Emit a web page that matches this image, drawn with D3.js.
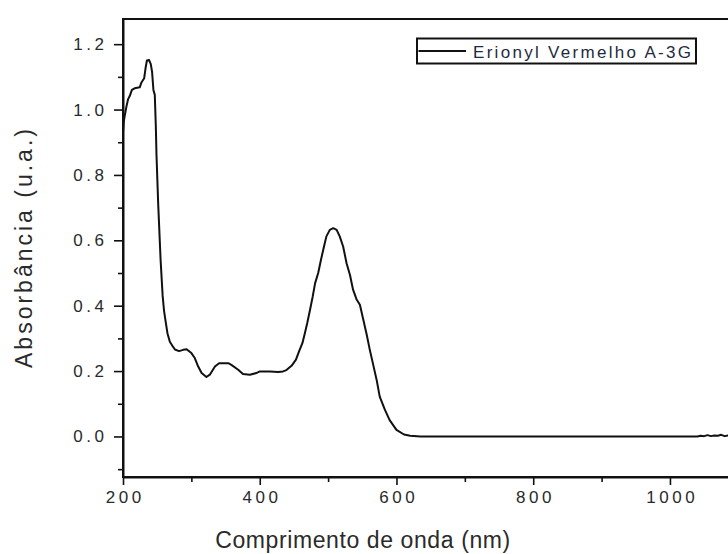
<!DOCTYPE html>
<html>
<head>
<meta charset="utf-8">
<script src="https://cdn.jsdelivr.net/npm/d3@7"></script>
<style>
  html, body { margin: 0; padding: 0; background: #fff; overflow: hidden; }
  svg { display: block; font-family: "Liberation Sans", Arial, sans-serif; }
</style>
</head>
<body>
<svg id="chart" width="728" height="554"></svg>
<script>
// UV-Vis absorption spectrum of the dye Erionyl Vermelho A-3G
const wavelength = [
  200, 201, 202, 205, 207.5, 210, 213, 217, 224.5, 227, 231, 233, 235, 238, 240.5, 242.5,
  244.5, 246.5, 248, 249, 251.5, 255, 258, 260, 262.5, 265, 268.5, 272, 276, 282, 288,
  293, 300, 305, 310, 315, 322, 327, 334.5, 340.5, 354, 358.5, 368.5, 375.5, 385.5, 395,
  400, 415, 427, 434, 439, 446.5, 453, 457.5, 462.5, 466, 469.5, 473.5, 477.5, 481, 485.5,
  489.5, 494, 497.5, 502.5, 507.5, 512.5, 517, 522, 527, 532, 536.5, 541.5, 546.5, 551.5,
  556.5, 561, 566, 571, 575.5, 583, 590, 600, 611, 620, 635, 700, 800, 900, 1000, 1040,
  1045, 1050, 1055, 1060, 1065, 1070, 1075, 1080, 1085, 1090
];
const absorbance = [
  0.93, 0.96, 0.975, 1.009, 1.032, 1.042, 1.06, 1.065, 1.068, 1.083, 1.096, 1.127, 1.15, 1.152, 1.14, 1.116,
  1.06, 1.045, 0.95, 0.86, 0.71, 0.54, 0.43, 0.385, 0.35, 0.316, 0.29, 0.278, 0.266, 0.261, 0.265,
  0.267, 0.255, 0.24, 0.214, 0.194, 0.182, 0.189, 0.214, 0.224, 0.224, 0.219, 0.204, 0.191, 0.189, 0.194,
  0.199, 0.199, 0.197, 0.199, 0.203, 0.216, 0.235, 0.26, 0.286, 0.316, 0.347, 0.387, 0.428, 0.469, 0.5,
  0.54, 0.581, 0.612, 0.632, 0.637, 0.632, 0.612, 0.581, 0.53, 0.494, 0.449, 0.42, 0.403, 0.357,
  0.311, 0.265, 0.219, 0.173, 0.122, 0.082, 0.05, 0.02, 0.006, 0.002, 0, 0, 0, 0, 0, 0,
  0.002, 0.001, 0.004, 0.001, 0.003, 0.002, 0.005, 0.001, 0.003, 0.002
];
const xMajorTicks = [200, 400, 600, 800, 1000];
const xMinorTicks = [300, 500, 700, 900, 1100];
const yMajorTicks = [0.0, 0.2, 0.4, 0.6, 0.8, 1.0, 1.2];
const yMinorTicks = [-0.1, 0.1, 0.3, 0.5, 0.7, 0.9, 1.1];
const seriesName = "Erionyl Vermelho A-3G";
const xTitle = "Comprimento de onda (nm)";
const yTitle = "Absorbância (u.a.)";

const svg = d3.select("#chart");
const plotLeft = 123, plotRight = 772.5, plotTop = 19, plotBottom = 477;

const x = d3.scaleLinear().domain([200, 1150]).range([plotLeft, plotRight]);
const y = d3.scaleLinear().domain([-0.124, 1.277]).range([plotBottom, plotTop]);

const ink = "#111";
const labelColor = "#2a2a2a";
const tickFont = 17, tickSpacing = 3.5;

// Frame (top, right) drawn as a box behind the axes
svg.append("rect")
  .attr("x", plotLeft).attr("y", plotTop)
  .attr("width", plotRight - plotLeft).attr("height", plotBottom - plotTop)
  .attr("fill", "none").attr("stroke", ink).attr("stroke-width", 2);

// Bottom axis: major ticks with labels, minor ticks without
const gx = svg.append("g").attr("transform", `translate(0,${plotBottom})`)
  .call(d3.axisBottom(x).tickValues(xMajorTicks).tickSize(8).tickSizeOuter(0)
    .tickPadding(6).tickFormat(d3.format("d")));
svg.append("g").attr("transform", `translate(0,${plotBottom})`)
  .call(d3.axisBottom(x).tickValues(xMinorTicks).tickSize(5).tickSizeOuter(0).tickFormat(""))
  .call(g => g.select(".domain").remove());

// Left axis
const gy = svg.append("g").attr("transform", `translate(${plotLeft},0)`)
  .call(d3.axisLeft(y).tickValues(yMajorTicks).tickSize(9).tickSizeOuter(0)
    .tickPadding(9).tickFormat(d3.format(".1f")));
svg.append("g").attr("transform", `translate(${plotLeft},0)`)
  .call(d3.axisLeft(y).tickValues(yMinorTicks).tickSize(5).tickSizeOuter(0).tickFormat(""))
  .call(g => g.select(".domain").remove());

svg.selectAll(".domain").attr("stroke", ink).attr("stroke-width", 2);
svg.selectAll(".tick line").attr("stroke", ink).attr("stroke-width", 1.6);

gx.selectAll(".tick text")
  .attr("font-size", tickFont).attr("fill", labelColor)
  .attr("font-family", "'Liberation Sans', Arial, sans-serif")
  .style("letter-spacing", tickSpacing + "px").attr("dx", (tickSpacing / 2) + "px");
gy.selectAll(".tick text")
  .attr("font-size", tickFont).attr("fill", labelColor)
  .attr("font-family", "'Liberation Sans', Arial, sans-serif")
  .style("letter-spacing", tickSpacing + "px").attr("dx", (tickSpacing - 1) + "px");

// Spectrum line
const line = d3.line()
  .x((d, i) => x(wavelength[i]))
  .y(d => y(d))
  .curve(d3.curveLinear);
svg.append("path")
  .datum(absorbance)
  .attr("d", line)
  .attr("fill", "none")
  .attr("stroke", ink)
  .attr("stroke-width", 2)
  .attr("stroke-linejoin", "round");

// Legend
const lg = svg.append("g");
lg.append("rect")
  .attr("x", 417).attr("y", 38.5).attr("width", 279).attr("height", 25)
  .attr("fill", "#fff").attr("stroke", ink).attr("stroke-width", 2);
lg.append("line")
  .attr("x1", 418.5).attr("x2", 466).attr("y1", 51).attr("y2", 51)
  .attr("stroke", ink).attr("stroke-width", 2);
lg.append("text")
  .attr("x", 473).attr("y", 57.5)
  .attr("font-size", 17).attr("fill", "#1f2a40")
  .attr("textLength", 218).attr("lengthAdjust", "spacing")
  .text(seriesName);

// Axis titles
svg.append("text")
  .attr("x", 363).attr("y", 548)
  .attr("text-anchor", "middle")
  .attr("font-size", 23).attr("fill", labelColor)
  .style("letter-spacing", "0.6px")
  .text(xTitle);
svg.append("text")
  .attr("transform", "translate(32,247) rotate(-90)")
  .attr("text-anchor", "middle")
  .attr("font-size", 23).attr("fill", labelColor)
  .style("letter-spacing", "3px")
  .text(yTitle);
</script>
</body>
</html>
